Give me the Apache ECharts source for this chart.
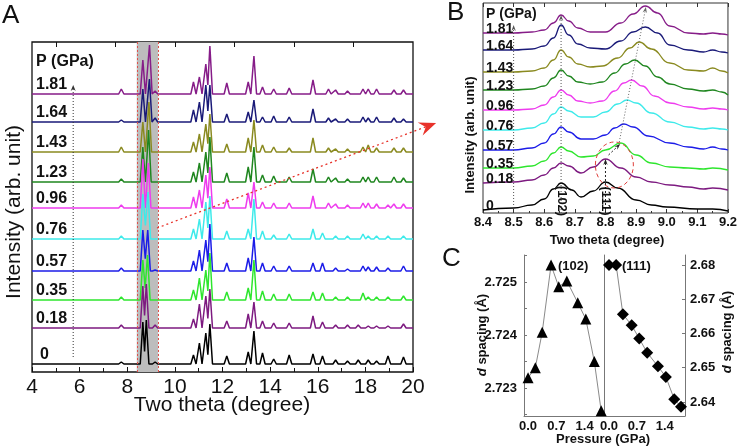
<!DOCTYPE html>
<html>
<head>
<meta charset="utf-8">
<script src="https://cdn.jsdelivr.net/npm/echarts@6/dist/echarts.min.js"></script>
<style>
  html, body { margin: 0; padding: 0; background: #fff; }
  #chart { width: 740px; height: 448px; }
</style>
</head>
<body>
<div id="chart"></div>
<script>
// pressures, bottom spectrum first
const pressures = ['0', '0.18', '0.35', '0.57', '0.76', '0.96', '1.23', '1.43', '1.64', '1.81'];
const lineColors = ['#000000', '#7d1a80', '#2ee62e', '#1c1ce8', '#3eeaea', '#ee3cee', '#1f861f', '#8a8a20', '#1a1a78', '#861c88'];

// panel A: stacked patterns (arb. units), offset of each pattern
const baseA = [8, 44, 72, 101, 133, 164, 190, 220, 250, 278];
// common peak positions (two theta) and heights per pattern
const peakPosA = [7.75, 8.655, 9.17, 10.78, 11.03, 11.3, 11.47, 12.18, 13.08, 13.32, 13.68, 14.15, 14.8,
  15.8, 16.2, 16.45, 16.75, 17.25, 17.7, 17.9, 18.12, 18.47, 18.95, 19.2, 19.6];
const peakHtA = [
  [2, 42, 2, 9, 21, 31, 40, 8, 12, 33, 11, 5, 9, 10, 8, 0, 4, 3, 4, 0, 4, 3, 8, 0, 7],
  [3, 42, 3, 9, 24, 32, 39, 7, 14, 26, 7, 5, 5, 12, 6, 0, 3, 3, 3, 0, 2, 2, 2, 0, 4],
  [3, 40, 0, 10, 22, 30, 47, 8, 12, 40, 9, 6, 6, 8, 7, 0, 3, 3, 0, 7, 3, 3, 3, 0, 4],
  [3, 41, 1, 10, 21, 31, 47, 8, 13, 34, 8, 5, 5, 8, 8, 0, 3, 2, 0, 5, 4, 4, 3, 0, 5],
  [3, 45, 0, 10, 20, 37, 43, 8, 10, 40, 8, 4, 5, 10, 6, 0, 3, 3, 0, 5, 3, 3, 3, 0, 3],
  [3, 49, 0, 11, 18, 33, 41, 9, 15, 26, 6, 5, 5, 12, 0, 5, 4, 3, 0, 5, 5, 4, 3, 4, 4],
  [3, 35, 0, 10, 19, 30, 45, 9, 15, 35, 7, 6, 5, 13, 0, 5, 4, 3, 0, 5, 5, 5, 0, 5, 4],
  [5, 30, 0, 10, 18, 28, 38, 8, 14, 32, 7, 5, 4, 14, 0, 4, 3, 3, 0, 5, 7, 4, 0, 4, 4],
  [2, 33, 4, 12, 20, 37, 37, 8, 10, 22, 5, 6, 5, 13, 0, 4, 3, 3, 0, 5, 4, 5, 0, 4, 3],
  [5, 34, 3, 12, 17, 30, 48, 11, 12, 38, 7, 5, 6, 14, 0, 5, 4, 3, 0, 5, 5, 5, 0, 4, 4]
];
// the (111) peak moves with pressure
const pos111A = [8.80, 8.80, 8.85, 8.86, 8.87, 8.885, 8.895, 8.91, 8.93, 8.935];
const ht111A = [44, 44, 45, 41, 47, 45, 52, 50, 43, 49];

// panel B: zoomed patterns, [two theta, intensity]
const curvesB = [
  [[8.4, 3], [8.5, 5], [8.56, 8], [8.6, 14], [8.63, 24], [8.655, 30], [8.69, 23], [8.72, 16], [8.76, 22], [8.8, 31],
   [8.84, 25], [8.9, 13], [8.95, 8], [9.0, 6], [9.1, 4], [9.15, 4], [9.2, 2]],
  [[8.4, 30], [8.5, 31], [8.56, 33], [8.6, 38], [8.63, 45], [8.655, 50], [8.68, 47], [8.72, 40], [8.76, 46], [8.8, 54],
   [8.85, 45], [8.9, 36], [8.95, 31], [9.01, 28], [9.07, 26], [9.12, 24], [9.15, 25], [9.2, 23]],
  [[8.4, 45], [8.5, 45], [8.56, 47], [8.6, 52], [8.63, 60], [8.655, 66], [8.68, 62], [8.72, 56], [8.76, 57], [8.8, 63],
   [8.85, 70], [8.9, 58], [8.95, 50], [9.01, 46], [9.07, 45], [9.12, 44], [9.15, 45], [9.2, 43]],
  [[8.4, 63], [8.5, 63], [8.56, 65], [8.6, 70], [8.63, 79], [8.655, 86], [8.68, 81], [8.72, 74], [8.76, 74], [8.8, 78],
   [8.83, 85], [8.86, 89], [8.89, 86], [8.94, 77], [9.01, 70], [9.07, 66], [9.12, 64], [9.15, 66], [9.18, 64], [9.2, 63]],
  [[8.4, 83], [8.5, 83], [8.56, 85], [8.6, 90], [8.63, 99], [8.655, 106], [8.68, 102], [8.72, 96], [8.76, 96], [8.8, 101],
   [8.84, 109], [8.87, 113], [8.9, 110], [8.95, 100], [9.01, 91], [9.07, 86], [9.12, 84], [9.15, 85], [9.18, 84], [9.2, 83]],
  [[8.4, 103], [8.5, 103], [8.56, 104], [8.6, 108], [8.63, 116], [8.655, 123], [8.68, 118], [8.71, 112], [8.75, 110], [8.79, 112],
   [8.83, 122], [8.86, 130], [8.885, 133], [8.92, 127], [8.96, 117], [9.01, 110], [9.07, 106], [9.12, 104], [9.15, 105], [9.18, 104], [9.2, 103]],
  [[8.4, 123], [8.5, 123], [8.56, 124], [8.6, 127], [8.63, 135], [8.655, 143], [8.68, 137], [8.71, 131], [8.75, 129], [8.79, 131],
   [8.83, 140], [8.865, 149], [8.895, 153], [8.93, 147], [8.97, 136], [9.01, 129], [9.07, 124], [9.12, 122], [9.15, 123], [9.18, 121], [9.2, 118]],
  [[8.4, 141], [8.5, 141], [8.56, 142], [8.6, 145], [8.63, 153], [8.655, 163], [8.68, 156], [8.71, 149], [8.75, 146], [8.79, 147],
   [8.84, 155], [8.88, 165], [8.91, 171], [8.95, 164], [9.01, 150], [9.07, 143], [9.12, 142], [9.15, 145], [9.18, 142], [9.2, 140]],
  [[8.4, 163], [8.5, 163], [8.56, 164], [8.6, 167], [8.63, 175], [8.655, 188], [8.68, 178], [8.71, 169], [8.75, 165], [8.8, 164],
   [8.85, 172], [8.89, 181], [8.93, 186], [8.97, 180], [9.01, 168], [9.07, 163], [9.12, 161], [9.15, 163], [9.18, 161], [9.2, 160]],
  [[8.4, 180], [8.5, 180], [8.56, 181], [8.6, 183], [8.63, 190], [8.655, 198], [8.68, 192], [8.71, 185], [8.75, 181], [8.8, 181],
   [8.85, 190], [8.89, 199], [8.93, 207], [8.97, 200], [9.01, 187], [9.07, 180], [9.12, 179], [9.15, 180], [9.18, 179], [9.2, 178]]
];

// panel C: d spacing vs pressure
const pressC = [0, 0.18, 0.35, 0.57, 0.76, 0.96, 1.23, 1.43, 1.64, 1.81];
const d102 = [2.72319, 2.72338, 2.72405, 2.72532, 2.72491, 2.72502, 2.72461, 2.7243, 2.7235, 2.72257];
const d111 = [2.6800, 2.6800, 2.6656, 2.6624, 2.6585, 2.6544, 2.6504, 2.6473, 2.6408, 2.6386];
const ticksP = [0, 0.7, 1.4];
const ticks102 = [2.723, 2.724, 2.725];
const minor102 = [2.7225, 2.723, 2.7235, 2.724, 2.7245, 2.725, 2.7255];
const ticks111 = [2.64, 2.65, 2.66, 2.67, 2.68];

const FONT = 'Liberation Sans, Arial, sans-serif';

// peak list -> polyline for one pattern of panel A
function patternA(i) {
  const pk = peakPosA.map((x, k) => [x, peakHtA[i][k]])
    .concat([[pos111A[i], ht111A[i]]])
    .filter(p => p[1] > 0)
    .sort((a, b) => a[0] - b[0]);
  const b = baseA[i], w = 0.11;
  const pts = [[4, b]];
  pk.forEach((p, k) => {
    const prev = pk[k - 1], next = pk[k + 1];
    if (!prev || p[0] - prev[0] >= 2 * w) pts.push([p[0] - w, b]);
    pts.push([p[0], b + p[1]]);
    if (next && next[0] - p[0] < 2 * w) {
      pts.push([(p[0] + next[0]) / 2, b + Math.min(p[1], next[1]) * 0.3]);
    } else {
      pts.push([p[0] + w, b]);
    }
  });
  pts.push([20, b]);
  return pts;
}

const chart = echarts.init(document.getElementById('chart'));

const series = [];
// host for the shaded 2theta window in A
series.push({
  type: 'line', xAxisIndex: 0, yAxisIndex: 0, data: [], z: 1, silent: true,
  markArea: {
    silent: true,
    itemStyle: { color: '#bdbdbd' },
    data: [[{ xAxis: 8.4 }, { xAxis: 9.3 }]]
  },
  markLine: {
    silent: true, symbol: 'none', label: { show: false },
    lineStyle: { color: '#e0504a', type: [2, 2], width: 1 },
    data: [{ xAxis: 8.4 }, { xAxis: 9.3 }]
  }
});
const idxA = [], idxB = [];
for (let i = pressures.length - 1; i >= 0; i--) {
  idxA[i] = series.length;
  series.push({
    type: 'line', xAxisIndex: 0, yAxisIndex: 0, z: 3,
    data: patternA(i), showSymbol: false, symbol: 'none',
    lineStyle: { color: lineColors[i], width: 1.5 }, animation: false
  });
}
for (let i = pressures.length - 1; i >= 0; i--) {
  idxB[i] = series.length;
  series.push({
    type: 'line', xAxisIndex: 2, yAxisIndex: 1, z: 3,
    data: curvesB[i], showSymbol: false, symbol: 'none',
    smooth: 0.5, smoothMonotone: 'x',
    lineStyle: { color: lineColors[i], width: 1.3 }, animation: false
  });
}
series.push({
  type: 'line', xAxisIndex: 4, yAxisIndex: 2,
  data: pressC.map((p, k) => [p, d102[k]]),
  symbol: 'triangle', symbolSize: 11, itemStyle: { color: '#000' },
  lineStyle: { color: '#8a8a8a', width: 1 }, animation: false
});
series.push({
  type: 'line', xAxisIndex: 5, yAxisIndex: 4,
  data: pressC.map((p, k) => [p, d111[k]]),
  symbol: 'diamond', symbolSize: 12, itemStyle: { color: '#000' },
  lineStyle: { color: '#8a8a8a', width: 1 }, animation: false
});

const boldSmall = { fontFamily: FONT, fontWeight: 'bold', fontSize: 13, color: '#111' };

const option = {
  animation: false,
  backgroundColor: '#fff',
  grid: [
    { left: 32, top: 42, width: 381, height: 330, show: true, borderColor: '#111', borderWidth: 1.3, backgroundColor: 'transparent' },
    { left: 483, top: 3, width: 248, height: 210, show: true, borderColor: '#333', borderWidth: 1, backgroundColor: 'transparent' },
    { left: 524, top: 255, width: 80, height: 161 },
    { left: 604, top: 255, width: 81, height: 161 }
  ],
  xAxis: [
    { // 0: A bottom
      type: 'value', gridIndex: 0, min: 4, max: 20, interval: 2,
      axisLine: { show: false },
      axisTick: { inside: true, length: 5, lineStyle: { color: '#111' } },
      minorTick: { show: true, splitNumber: 2, length: 4, lineStyle: { color: '#111' } },
      splitLine: { show: false }, minorSplitLine: { show: false },
      axisLabel: { fontFamily: FONT, fontSize: 21, color: '#111', margin: 5 }
    },
    { // 1: A top ticks
      type: 'value', gridIndex: 0, min: 4, max: 20, position: 'top',
      axisLine: { show: false },
      axisTick: { inside: true, length: 5, customValues: [5, 7.5, 10, 12.5, 15, 17.5], lineStyle: { color: '#111' } },
      axisLabel: { show: false }, splitLine: { show: false }
    },
    { // 2: B bottom
      type: 'value', gridIndex: 1, min: 8.4, max: 9.2, interval: 0.1,
      axisLine: { show: false },
      axisTick: { inside: true, length: 4, lineStyle: { color: '#333' } },
      minorTick: { show: true, splitNumber: 2, length: 2, lineStyle: { color: '#333' } },
      splitLine: { show: false }, minorSplitLine: { show: false },
      axisLabel: Object.assign({ margin: 3, formatter: v => v.toFixed(1) }, boldSmall)
    },
    { // 3: B top ticks
      type: 'value', gridIndex: 1, min: 8.4, max: 9.2, interval: 0.1, position: 'top',
      axisLine: { show: false },
      axisTick: { inside: true, length: 4, lineStyle: { color: '#333' } },
      axisLabel: { show: false }, splitLine: { show: false }
    },
    { // 4: C left
      type: 'value', gridIndex: 2, min: -0.1, max: 1.88,
      axisLine: { show: true, onZero: false, lineStyle: { color: '#777' } },
      axisTick: { show: false },
      axisLabel: Object.assign({ margin: 4, customValues: ticksP, formatter: v => v.toFixed(1) }, boldSmall),
      splitLine: { show: false }
    },
    { // 5: C right
      type: 'value', gridIndex: 3, min: -0.125, max: 1.91,
      axisLine: { show: true, onZero: false, lineStyle: { color: '#777' } },
      axisTick: { show: false },
      axisLabel: Object.assign({ margin: 4, customValues: ticksP, formatter: v => v.toFixed(1) }, boldSmall),
      splitLine: { show: false }
    }
  ],
  yAxis: [
    { type: 'value', gridIndex: 0, min: 0, max: 330, show: false },
    { type: 'value', gridIndex: 1, min: 0, max: 210, show: false },
    { // 2: C left, (102)
      type: 'value', gridIndex: 2, min: 2.72247, max: 2.72551,
      axisLine: { show: true, onZero: false, lineStyle: { color: '#777' } },
      axisTick: { show: true, inside: true, length: 3, customValues: minor102, lineStyle: { color: '#777' } },
      axisLabel: Object.assign({ margin: 7, customValues: ticks102, formatter: v => v.toFixed(3) }, boldSmall),
      splitLine: { show: false }
    },
    { // 3: C divider
      type: 'value', gridIndex: 3, min: 2.6359, max: 2.6829, position: 'left',
      axisLine: { show: true, onZero: false, lineStyle: { color: '#777' } },
      axisTick: { show: false }, axisLabel: { show: false }, splitLine: { show: false }
    },
    { // 4: C right, (111)
      type: 'value', gridIndex: 3, min: 2.6359, max: 2.6829, position: 'right',
      axisLine: { show: true, onZero: false, lineStyle: { color: '#777' } },
      axisTick: { show: true, inside: true, length: 3, customValues: ticks111, lineStyle: { color: '#777' } },
      axisLabel: Object.assign({ margin: 5, customValues: ticks111, formatter: v => v.toFixed(2) }, boldSmall),
      splitLine: { show: false }
    }
  ],
  series: series
};

chart.setOption(option);

// ---------- annotations ----------
const px = (s, p) => chart.convertToPixel({ seriesIndex: s }, p);

function arrow(p1, p2, color, dash, L, W, width) {
  const a = Math.atan2(p2[1] - p1[1], p2[0] - p1[0]);
  const ca = Math.cos(a), sa = Math.sin(a);
  const bx = p2[0] - L * ca, by = p2[1] - L * sa;
  const nx = p2[0] - 0.65 * L * ca, ny = p2[1] - 0.65 * L * sa;
  return [
    { type: 'line', z: 50, shape: { x1: p1[0], y1: p1[1], x2: nx, y2: ny },
      style: { stroke: color, lineWidth: width || 1, lineDash: dash } },
    { type: 'polygon', z: 50, shape: { points: [[p2[0], p2[1]], [bx - sa * W, by + ca * W], [nx, ny], [bx + sa * W, by - ca * W]] },
      style: { fill: color } }
  ];
}
function text(str, x, y, font, opts) {
  return {
    type: 'text', z: 60, x: x, y: y,
    style: Object.assign({ text: str, font: font, fill: '#111', align: 'left', verticalAlign: 'middle' }, opts || {})
  };
}

const g = [];
const s0 = idxA[0];
const bS = idxB[0];

// panel letters
g.push(text('A', 2, 16, '26px ' + FONT));
g.push(text('B', 447, 13, '26px ' + FONT));
g.push(text('C', 442, 259, '26px ' + FONT));

// panel A labels
g.push(text('P (GPa)', 36, 62, 'bold 16px ' + FONT));
pressures.forEach((p, i) => {
  const q = px(idxA[i], [4, baseA[i]]);
  g.push(text(p, i === 0 ? 40 : 36, q[1] - 1, 'bold 16px ' + FONT, { verticalAlign: 'bottom' }));
});
g.push(Object.assign(text('Intensity (arb. unit)', 0, 0, '21px ' + FONT, { align: 'center' }), { x: 14, y: 212, rotation: Math.PI / 2 }));
g.push(text('Two theta (degree)', 222, 405, '21px ' + FONT, { align: 'center' }));

// A: dotted guide with arrow, red dotted pointer towards B
g.push(...arrow(px(s0, [5.73, 15]), px(s0, [5.73, 287]), '#333', [1, 2], 6, 2.5));
g.push(...arrow(px(s0, [9.25, 144]), px(s0, [20.97, 249]), '#e8322a', [2, 3], 17, 7, 1.3));

// panel B labels
g.push(text('P (GPa)', 486, 14, 'bold 14px ' + FONT));
pressures.forEach((p, i) => {
  const q = px(idxB[i], curvesB[i][0]);
  g.push(text(p, 486, q[1] - 4, 'bold 14px ' + FONT));
});
g.push(Object.assign(text('Intensity (arb. unit)', 0, 0, 'bold 13px ' + FONT, { align: 'center' }), { x: 470, y: 135, rotation: Math.PI / 2 }));
g.push(text('Two theta (degree)', 607, 240, 'bold 13px ' + FONT, { align: 'center' }));

// B guides
g.push(...arrow(px(bS, [8.5, 8]), px(bS, [8.5, 188]), '#555', [1, 2], 6, 2.2));
g.push(...arrow(px(bS, [8.655, 0]), px(bS, [8.655, 198]), '#555', [1, 2], 6, 2.2));
g.push(...arrow(px(bS, [8.80, 0]), px(bS, [8.80, 54]), '#222', [2, 2], 6, 2.2));
g.push(...arrow(px(bS, [8.81, 58]), px(bS, [8.848, 69]), '#222', [2, 2], 6, 2.2));
g.push(...arrow(px(bS, [8.845, 71]), px(bS, [8.932, 206]), '#666', [1, 2], 6, 2.2));
const ec = px(bS, [8.829, 48]);
g.push({ type: 'ellipse', z: 50, shape: { cx: ec[0], cy: ec[1], rx: 19, ry: 23 },
  style: { fill: 'none', stroke: '#e0403c', lineWidth: 1, lineDash: [4, 3] } });
const l102 = px(bS, [8.655, 12]);
const l111 = px(bS, [8.80, 12]);
g.push(Object.assign(text('(102)', 0, 0, 'bold 13px ' + FONT, { align: 'center' }), { x: l102[0], y: l102[1], rotation: -Math.PI / 2 }));
g.push(Object.assign(text('(111)', 0, 0, 'bold 13px ' + FONT, { align: 'center' }), { x: l111[0], y: l111[1], rotation: -Math.PI / 2 }));

// panel C labels
g.push(text('(102)', 558, 266, 'bold 13px ' + FONT));
g.push(text('(111)', 622, 266, 'bold 13px ' + FONT));
g.push(text('Pressure (GPa)', 603, 439, 'bold 13px ' + FONT, { align: 'center' }));
const dLabel = (x, y) => ({
  type: 'text', z: 60, x: x, y: y, rotation: Math.PI / 2,
  style: {
    text: '{i|d} spacing (Å)', fill: '#111', align: 'center', verticalAlign: 'middle',
    fontFamily: FONT, fontSize: 13, fontWeight: 'bold',
    rich: { i: { fontStyle: 'italic', fontWeight: 'bold', fontSize: 13, fontFamily: FONT, fill: '#111' } }
  }
});
g.push(dLabel(482, 335));
g.push(dLabel(727, 332));

chart.setOption({ graphic: g });
</script>
</body>
</html>
